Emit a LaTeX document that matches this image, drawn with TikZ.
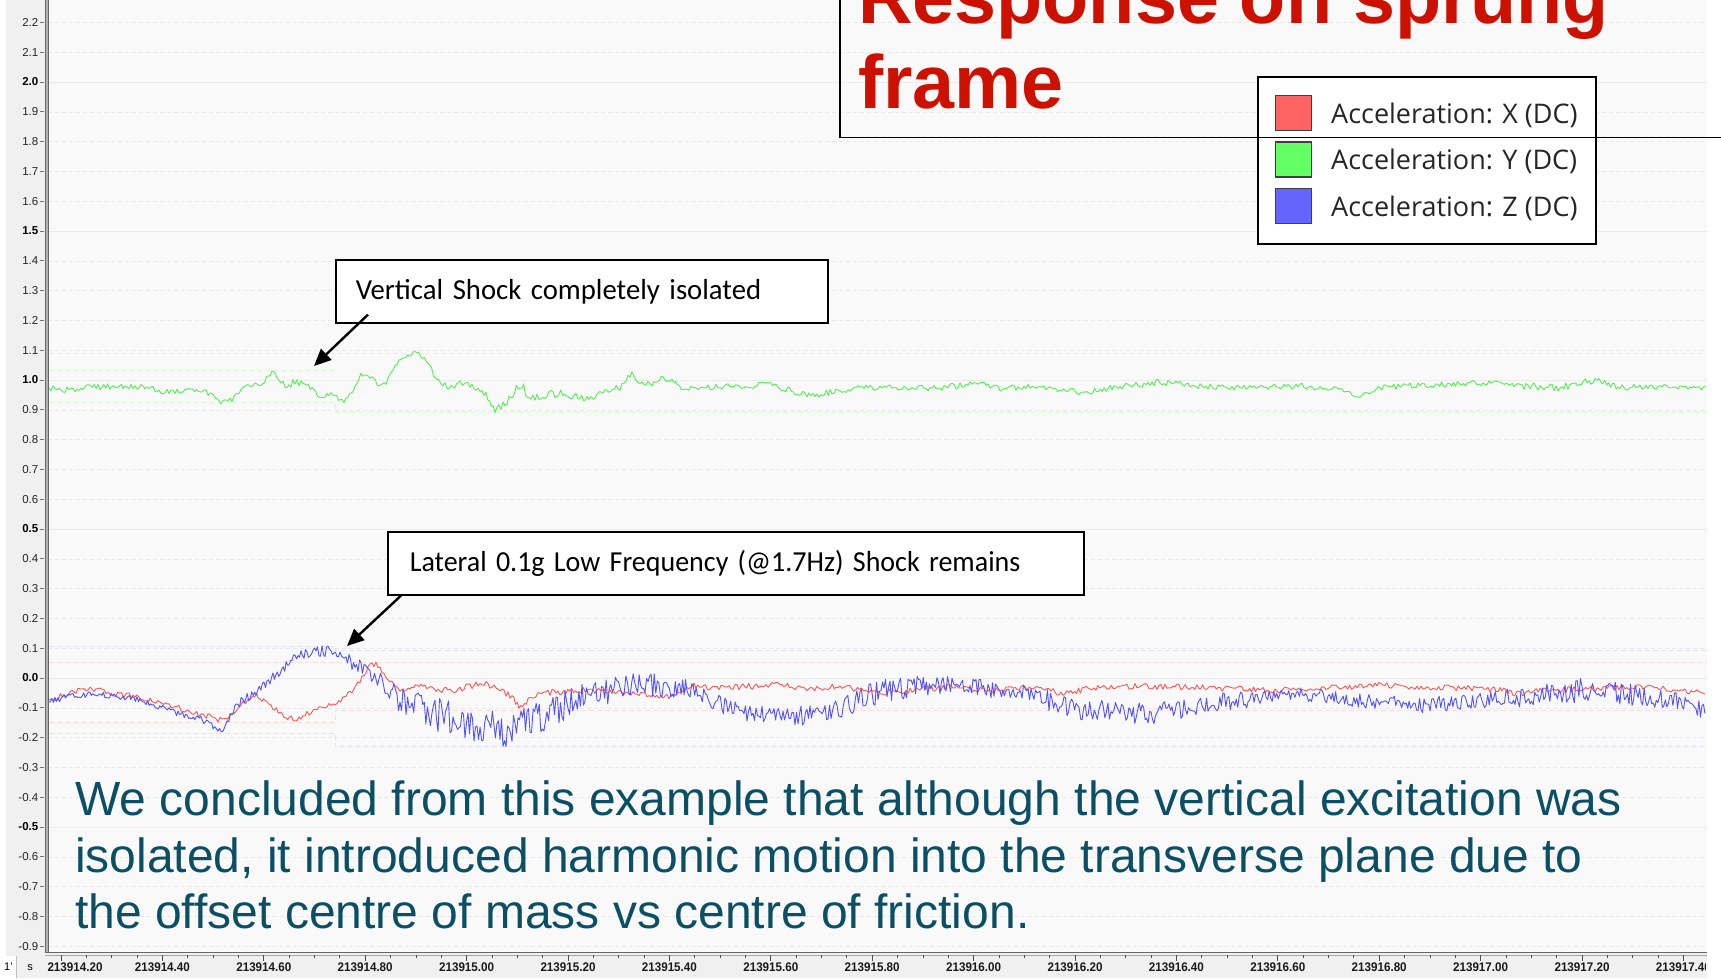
\documentclass[tikz,border=0pt]{standalone}
\usepackage{fontspec}
\setmainfont{Liberation Sans}
\newfontfamily\calib{Carlito}
\newfontfamily\segoe{Open Sans}
\usetikzlibrary{arrows.meta,calc}

\definecolor{bgplot}{HTML}{F9F9F9}
\definecolor{panel}{HTML}{F0F0F0}
\definecolor{traceR}{HTML}{FF5555}
\definecolor{traceG}{HTML}{55EE55}
\definecolor{traceB}{HTML}{5252FF}
\definecolor{swR}{HTML}{FF6464}
\definecolor{swG}{HTML}{64FF64}
\definecolor{swB}{HTML}{6464FF}
\definecolor{titlered}{HTML}{CC1100}
\definecolor{bodyteal}{HTML}{0B4F66}

% builds a noisy polyline: #1 target macro, #2 sample step, #3/#4 start point, #5 list x/y/noise
\newcommand\mktrace[5]{%
  \xdef#1{(#3,#4)}%
  \foreach \xb/\yb/\am [remember=\xb as \xa (initially #3), remember=\yb as \ya (initially #4)] in {#5}{%
    \pgfmathtruncatemacro\nseg{max(1,round((\xb-\xa)/#2))}%
    \foreach \i in {1,...,\nseg}{%
      \pgfmathsetmacro\px{\xa+(\xb-\xa)*\i/\nseg}%
      \pgfmathsetmacro\py{\ya+(\yb-\ya)*\i/\nseg+\am*rand}%
      \xdef#1{#1 -- (\px,\py)}%
    }%
  }%
}

\tikzset{
  gridminor/.style={draw=black!9, line width=0.6pt, dash pattern=on 4pt off 3pt},
  gridmajor/.style={draw=black!8, line width=1pt},
  ylab/.style={inner sep=0pt, text=black!85, font=\fontsize{11.5}{13}\selectfont},
  ylabbold/.style={inner sep=0pt, text=black, font=\fontsize{11.5}{13}\selectfont\bfseries},
  xlab/.style={inner sep=0pt, text=black!90, font=\fontsize{12.5}{14}\selectfont\bfseries},
  tr/.style={line width=0.9pt, line join=round},
  faint/.style={line width=0.8pt, dash pattern=on 5pt off 3pt},
  annot/.style={draw=black, line width=1.6pt, fill=white, minimum height=63pt,
    anchor=north west, align=left, inner ysep=0pt,
    font=\calib\fontsize{29}{35}\selectfont},
  arr/.style={line width=2.4pt, -{Triangle[length=17pt,width=15pt]}},
  swatch/.style={draw=black!75, line width=1.6pt, minimum width=36pt, minimum height=35pt, inner sep=0pt},
  legtext/.style={anchor=west, inner sep=0pt, text=black!85, font=\segoe\fontsize{27}{32}\selectfont},
  bodytext/.style={anchor=base west, inner sep=0pt, text=bodyteal, font=\fontsize{48}{57}\selectfont},
  titletext/.style={anchor=base west, inner sep=0pt, text=titlered, font=\fontsize{75.5}{85}\selectfont\bfseries},
}

\begin{document}
\begin{tikzpicture}[x=1pt,y=-1pt]
\useasboundingbox (0,0) rectangle (1721,978);
\clip (0,0) rectangle (1721,978);

% slide and chart backgrounds
\fill[white] (0,0) rectangle (1721,978);
\fill[panel] (6,0) rectangle (1707,978);
\fill[bgplot] (48,0) rectangle (1707,952);

% horizontal grid
\foreach \v in {-9,...,22}{
  \draw[gridminor] (48,{678-29.8*\v}) -- (1707,{678-29.8*\v});
}
\foreach \v in {-5,0,5,10,15,20}{
  \draw[gridmajor] (48,{678-29.8*\v}) -- (1707,{678-29.8*\v});
}

% y axis labels and ticks
\foreach \v/\t in {22/2.2,21/2.1,19/1.9,18/1.8,17/1.7,16/1.6,14/1.4,13/1.3,12/1.2,11/1.1,
  9/0.9,8/0.8,7/0.7,6/0.6,4/0.4,3/0.3,2/0.2,1/0.1,-1/-0.1,-2/-0.2,-3/-0.3,-4/-0.4,
  -6/-0.6,-7/-0.7,-8/-0.8,-9/-0.9}{
  \node[ylab, anchor=east] (yl\v) at (38.5,{678-29.8*\v}) {\t};
}
\foreach \v/\t in {20/2.0,15/1.5,10/1.0,5/0.5,0/0.0,-5/-0.5}{
  \node[ylabbold, anchor=east] (yl\v) at (38.5,{678-29.8*\v}) {\t};
}
\foreach \v in {-9,...,22}{
  \draw[black!55, line width=0.8pt] (40,{678-29.8*\v}) -- (44,{678-29.8*\v});
}

% y axis line
\fill[black!30] (44.5,0) rectangle (48.5,953);
\draw[black!60, line width=1pt] (45,0) -- (45,953);
\draw[black!60, line width=1pt] (48,0) -- (48,953);

% min / max marker lines
\begin{scope}[faint]
  \draw[traceG!25] (49,353) -- (1707,353);
  \draw[traceG!25] (49,370) -- (335,370);
  \draw[traceG!25] (49,402) -- (335,402) -- (335,412) -- (1707,412);
  \draw[traceR!22] (49,662) -- (1707,662);
  \draw[traceR!22] (49,722) -- (335,722) -- (335,710) -- (1707,710);
  \draw[traceB!18] (49,646) -- (335,646) -- (335,650) -- (1707,650);
  \draw[traceB!18] (49,733) -- (335,733) -- (335,746) -- (1707,746);
\end{scope}

% signal traces
\pgfmathsetseed{4711}
\mktrace{\tG}{2}{49}{388}{67/390/3, 85/388/3, 98/387/3, 129/386/3, 147/388/3, 169/392/3,
  187/390/3, 210/393/3, 219/402/3, 232/400/3, 245/388/3, 263/382/3, 270/372/4, 277/377/4,
  283/385/4, 301/382/4, 312/388/3, 321/397/3, 335/395/3, 344/402/3, 353/390/3, 361/375/2,
  370/377/2, 379/385/2, 386/383/2, 397/363/2, 406/357/2, 417/352/2, 428/363/2, 437/382/3,
  451/387/3, 464/382/3, 478/388/3, 486/395/3, 495/410/4, 509/400/4, 520/385/5, 531/397/5,
  553/393/5, 576/395/5, 589/400/4, 603/390/3, 620/388/3, 632/373/3, 638/382/3, 652/383/3,
  663/377/3, 674/382/3, 683/390/3, 710/387/3, 732/385/3, 745/388/3, 763/382/3, 780/388/3,
  799/393/3, 815/395/3, 832/392/3, 860/387/3, 900/388/3, 940/388/3, 974/383/3, 1000/388/3,
  1040/387/3, 1083/393/3, 1110/388/3, 1162/382/3, 1200/386/3, 1250/388/3, 1300/386/3,
  1340/390/3, 1360/395/3, 1380/388/3, 1420/385/3, 1485/383/3, 1520/386/3, 1560/388/4,
  1597/380/4, 1620/387/3, 1660/387/3, 1690/389/3, 1705/387/3}
\mktrace{\tR}{2}{49}{700}{70/693/3, 84/688/3, 100/690/3, 112/693/3, 135/697/3, 154/702/3,
  175/707/3, 189/712/3, 210/717/3, 224/721/3, 238/708/3, 253/694/3, 260/698/3, 267/703/3,
  282/715/3, 295/720/3, 309/713/3, 323/707/3, 337/702/3, 350/693/3, 358/683/3, 372/663/3,
  378/665/3, 386/678/3, 400/692/3, 410/688/3, 421/685/3, 440/690/3, 456/690/3, 470/686/3,
  484/683/3, 500/690/3, 512/697/3, 519/708/3, 530/698/3, 540/693/3, 560/692/3, 589/690/3,
  610/692/3, 631/693/3, 655/695/3, 673/697/3, 694/685/3, 715/688/3, 737/687/3, 772/685/3,
  807/688/3, 842/687/3, 877/693/3, 912/690/3, 947/687/3, 982/690/3, 1000/690/3, 1023/688/3,
  1047/690/3, 1061/693/3, 1094/688/3, 1117/686/3, 1187/687/3, 1230/689/3, 1281/690/3,
  1328/688/3, 1375/685/3, 1421/687/3, 1468/688/3, 1500/690/3, 1515/694/3, 1540/691/3,
  1562/690/3, 1609/688/3, 1655/687/3, 1693/692/3, 1705/693/3}
\mktrace{\tB}{1.5}{49}{702}{70/695/3, 105/695/3, 140/700/3, 175/712/3, 210/723/4, 221/732/4,
  238/703/4, 267/683/5, 295/658/5, 316/650/5, 337/653/6, 358/667/7, 379/683/9, 400/700/12,
  435/714/15, 477/725/17, 500/728/18, 512/730/18, 530/722/17, 547/714/16, 565/705/15, 582/698/14,
  600/692/14, 617/689/14, 645/685/13, 665/686/12, 687/690/11, 716/702/9, 744/713/9, 786/717/9,
  828/713/10, 863/697/12, 890/690/12, 905/688/12, 940/685/11, 982/688/9, 1000/692/8, 1019/690/8,
  1037/697/9, 1070/708/11, 1117/712/11, 1154/713/11, 1187/709/10, 1211/703/9, 1257/698/9,
  1304/695/8, 1328/697/7, 1375/702/7, 1421/705/7, 1468/702/8, 1515/697/9, 1562/692/11,
  1585/690/12, 1632/695/11, 1679/700/10, 1705/710/9}
\begin{scope}
  \clip (48,0) rectangle (1707,952);
  \draw[tr, traceG] \tG;
  \draw[tr, traceR] \tR;
  \draw[tr, traceB] \tB;
\end{scope}

% bottom time axis
\draw[black!60, line width=1.2pt] (44.5,952.5) -- (1707,952.5);
\draw[black!35, line width=0.8pt] (44.5,955) -- (1707,955);
\begin{scope}
  \clip (0,952) rectangle (1705,978);
  \foreach \k in {0,...,65}{
    \pgfmathsetmacro\tl{mod(\k,4)==0 ? 6 : 3}
    \draw[black!70, line width=0.8pt] ({61+25.35*\k},955) -- ({61+25.35*\k},955+\tl);
  }
  \node[xlab] (xl0) at (75,967) {\scalebox{0.93}[1]{213914.20}};
  \foreach \k/\t in {1/213914.40,2/213914.60,3/213914.80,4/213915.00,5/213915.20,
    6/213915.40,7/213915.60,8/213915.80,9/213916.00,10/213916.20,11/213916.40,
    12/213916.60,13/213916.80,14/213917.00,15/213917.20,16/213917.40}{
    \node[xlab] (xl\k) at ({61+101.4*\k},967) {\scalebox{0.93}[1]{\t}};
  }
\end{scope}
\fill[white] (0,956) rectangle (16,978);
\draw[black!25, line width=0.8pt] (16,956) -- (16,978);
\node[inner sep=0pt, font=\fontsize{11}{12}\selectfont] (unit1) at (8.5,967) {1'};
\node[inner sep=0pt, font=\fontsize{11}{12}\selectfont] (unit2) at (30,968) {s};

% legend
\node[draw=black, line width=2pt, fill=white, minimum width=338pt, minimum height=167pt,
  anchor=north west, inner sep=0pt] (legend) at (1257,76) {};
\node[swatch, fill=swR] (swx) at (1293.5,113) {};
\node[swatch, fill=swG] (swy) at (1293.5,159.5) {};
\node[swatch, fill=swB] (swz) at (1293.5,206) {};
\node[legtext] (lgx) at (1331,115) {Acceleration: X (DC)};
\node[legtext] (lgy) at (1331,161.5) {Acceleration: Y (DC)};
\node[legtext] (lgz) at (1331,208) {Acceleration: Z (DC)};

% title frame
\draw[black, line width=1.6pt] (840,-5) -- (840,137.5) -- (1725,137.5);
\node[titletext] (title1) at (858,23) {Response on sprung};
\node[titletext] (title2) at (858,108) {frame};

% callouts
\node[annot, minimum width=492pt, text width=460pt, inner xsep=16pt] (vbox) at (335,259)
  {\hspace*{4pt}\scalebox{0.99}[1]{Vertical Shock completely isolated}};
\node[annot, minimum width=696pt, text width=664pt, inner xsep=16pt] (lbox) at (387,531)
  {\hspace*{6pt}\scalebox{0.965}[1]{Lateral 0.1g Low Frequency (@1.7Hz) Shock remains}};
\coordinate (vtail) at ($(vbox.south west)+(33,-9)$);
\coordinate (vtip) at (314,366);
\coordinate (ltail) at ($(lbox.south west)+(14,0)$);
\coordinate (ltip) at (347,646);
\draw[arr] (vtail) -- (vtip);
\draw[arr] (ltail) -- (ltip);

% conclusion text
\node[bodytext] (body1) at (75,815) {We concluded from this example that although the vertical excitation was};
\node[bodytext] (body2) at (75,872) {isolated, it introduced harmonic motion into the transverse plane due to};
\node[bodytext] (body3) at (75,928) {the offset centre of mass vs centre of friction.};
\end{tikzpicture}
\end{document}
